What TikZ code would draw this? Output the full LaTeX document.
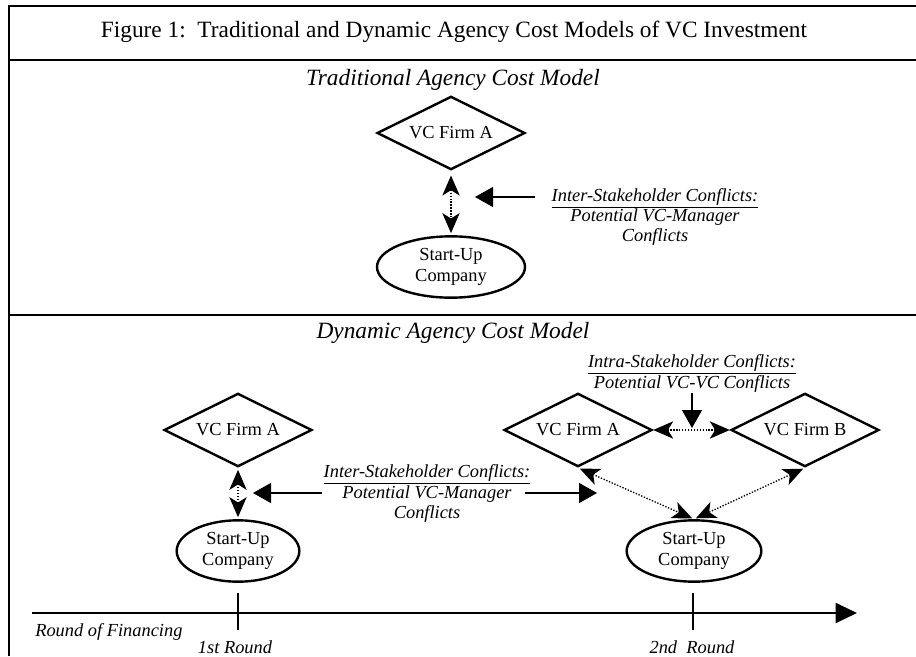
\documentclass[tikz,border=0pt]{standalone}
\usepackage{fontspec}
\setmainfont{Liberation Serif}
\usetikzlibrary{shapes.geometric,arrows.meta}
\newcommand{\bigfont}{\fontsize{17.5pt}{21pt}\selectfont}
\newcommand{\smallfont}{\fontsize{13.8pt}{15.5pt}\selectfont}
\tikzstyle{firm} = [diamond, aspect=2, draw=black, line width=1.8pt, minimum width=111pt, minimum height=55pt, inner sep=0pt, font=\smallfont]
\tikzstyle{company} = [ellipse, draw=black, line width=1.8pt, minimum height=46pt, inner sep=0pt, align=center, font=\smallfont]
\tikzstyle{heading} = [font=\bigfont\itshape]
\tikzstyle{conflict} = [align=center, inner sep=0pt, font=\smallfont\itshape]
\tikzstyle{roundlabel} = [font=\smallfont\itshape]
\tikzstyle{dotarrow} = [line width=1pt, dash pattern=on 1pt off 1.2pt, {Stealth[length=15pt,width=13pt,inset=4pt]}-{Stealth[length=15pt,width=13pt,inset=4pt]}]
\tikzstyle{arrow} = [line width=1pt, -{Triangle[length=13.5pt,width=15pt]}]
\tikzstyle{axis} = [line width=1.5pt, -{Triangle[length=16pt,width=15pt]}]
\tikzstyle{frame} = [line width=1.5pt]
\tikzstyle{tick} = [line width=0.8pt]

\begin{document}
\begin{tikzpicture}[x=0.75pt, y=-0.75pt]
	\useasboundingbox (0,0) rectangle (916,656);
	% frame of the figure
	\draw[frame] (9,656) -- (9,6) -- (916,6);
	\draw[frame] (9,60) -- (916,60);
	\draw[frame] (9,315) -- (916,315);
	\node (title) at (454, 32) [font=\bigfont] {Figure 1:\ \ Traditional and Dynamic Agency Cost Models of VC Investment};

	% traditional model
	\node (tradhead) at (453, 80) [heading] {Traditional Agency Cost Model};
	\node (firmA) at (451, 133) [firm] {VC Firm A};
	\node (startup) at (451, 267) [company, minimum width=111pt] {Start-Up\\Company};
	\node (interhead) at (655, 198) [conflict] {\underline{Inter-Stakeholder Conflicts:}};
	\node (interbody) at (655, 227) [conflict] {Potential VC-Manager\\Conflicts};
	\coordinate (intertail) at (535, 197);
	\coordinate (intertip) at (475, 197);
	\draw[dotarrow, shorten <=3.5pt, shorten >=1.5pt] (firmA.south) -- (startup.north);
	\draw[arrow] (intertail) -- (intertip);

	% dynamic model
	\node (dynhead) at (453, 333) [heading] {Dynamic Agency Cost Model};
	\node (firmAfirst) at (238, 430) [firm] {VC Firm A};
	\node (startupfirst) at (238, 551) [company, minimum width=92pt] {Start-Up\\Company};
	\node (firmAsecond) at (578, 430) [firm] {VC Firm A};
	\node (firmB) at (805, 430) [firm] {VC Firm B};
	\node (startupsecond) at (694, 551) [company, minimum width=101pt] {Start-Up\\Company};
	\node (interheadtwo) at (427, 474) [conflict] {\underline{Inter-Stakeholder Conflicts:}};
	\node (interbodytwo) at (427, 504) [conflict] {Potential VC-Manager\\Conflicts};
	\node (intrahead) at (692, 364) [conflict] {\underline{Intra-Stakeholder Conflicts:}};
	\node (intrabody) at (692, 384) [conflict] {Potential VC-VC Conflicts};
	\coordinate (lefttail) at (322, 493);
	\coordinate (lefttip) at (253, 493);
	\coordinate (righttail) at (525, 493);
	\coordinate (righttip) at (597, 493);
	\coordinate (intratail) at (692, 393);
	\coordinate (intratip) at (692, 428);
	\draw[dotarrow, shorten <=1.5pt, shorten >=1.5pt] (firmAfirst.south) -- (startupfirst.north);
	\draw[dotarrow] (firmAsecond.east) -- (firmB.west);
	\draw[dotarrow, shorten <=1.5pt, shorten >=1.5pt] (firmAsecond.south) -- (startupsecond.north);
	\draw[dotarrow, shorten <=1.5pt, shorten >=1.5pt] (firmB.south) -- (startupsecond.north);
	\draw[arrow] (lefttail) -- (lefttip);
	\draw[arrow] (righttail) -- (righttip);
	\draw[arrow] (intratail) -- (intratip);

	% rounds of financing
	\coordinate (axisstart) at (32, 613);
	\coordinate (axisend) at (857, 613);
	\coordinate (firsttop) at (238, 593);
	\coordinate (firstbottom) at (238, 630);
	\coordinate (secondtop) at (693, 593);
	\coordinate (secondbottom) at (693, 630);
	\draw[axis] (axisstart) -- (axisend);
	\draw[tick] (firsttop) -- (firstbottom);
	\draw[tick] (secondtop) -- (secondbottom);
	\node (financing) at (35, 632) [roundlabel, anchor=west, inner sep=0pt] {Round of Financing};
	\node (firstround) at (235, 647) [roundlabel, inner sep=0pt] {1st Round};
	\node (secondround) at (692, 647) [roundlabel, inner sep=0pt] {2nd~ Round};
\end{tikzpicture}
\end{document}
